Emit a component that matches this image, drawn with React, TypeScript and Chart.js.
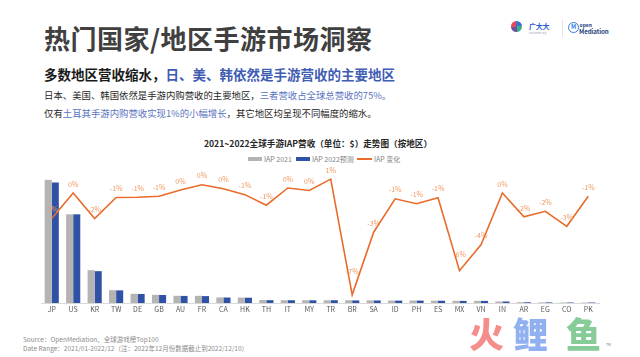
import React, { useEffect, useRef } from "react";
import { Chart, registerables } from "chart.js";

Chart.register(...registerables);

const categories = ["JP","US","KR","TW","DE","GB","AU","FR","CA","HK","TH","IT","MY","TR","BR","SA","ID","PH","ES","MX","VN","IN","AR","EG","CO","PK"];
const iap2021 = [20.0,14.4,5.33,2.08,1.49,1.33,1.17,1.17,0.91,0.88,0.48,0.46,0.45,0.44,0.45,0.42,0.40,0.40,0.38,0.36,0.35,0.24,0.13,0.10,0.08,0.08];
const iap2022 = [19.57,14.4,5.17,2.05,1.46,1.30,1.15,1.12,0.89,0.86,0.46,0.45,0.44,0.45,0.42,0.41,0.39,0.39,0.37,0.34,0.34,0.24,0.12,0.10,0.08,0.08];
const changePct = [-1.72,0.05,-1.72,-0.27,-0.25,-0.18,0.25,0.61,0.34,-0.07,-0.80,0.39,0.22,1.0,-7.0,-2.67,-0.36,-0.70,-0.29,-5.33,-3.54,0.05,-1.61,-1.22,-2.26,-0.18];
const changeLabels = ["-2%","0%","-2%","-1%","-1%","-1%","0%","0%","0%","-1%","-1%","0%","0%","1%","-7%","-3%","-1%","-1%","-1%","-6%","-4%","0%","-2%","-2%","-3%","-1%"];

const FONT = "'Noto Sans CJK SC', 'Noto Sans', sans-serif";
const GRAY = "#b4b4b4";
const BLUE = "#2f52a6";
const ORANGE = "#e86b2a";
const LABEL_ORANGE = "#f09a62";
const TEXT_BLUE = "#3f5db3";
const BODY_BLUE = "#5a74c0";

// extra lift (px) for labels sitting in sharp valleys so they clear the line
const VALLEY_LIFT: Record<number, number> = { 14: 14, 19: 7 };

const lineLabelPlugin = {
  id: "lineLabels",
  afterDatasetsDraw(chart: any) {
    const ctx = chart.ctx;
    const meta = chart.getDatasetMeta(0);
    ctx.save();
    ctx.font = `7px ${FONT}`;
    ctx.fillStyle = LABEL_ORANGE;
    ctx.textAlign = "center";
    ctx.textBaseline = "middle";
    meta.data.forEach((pt: any, i: number) => {
      const lift = 9 + (VALLEY_LIFT[i] || 0);
      ctx.fillText(changeLabels[i], pt.x, pt.y - lift);
    });
    ctx.restore();
  },
};

function ChartCanvas() {
  const ref = useRef<HTMLCanvasElement | null>(null);
  useEffect(() => {
    if (!ref.current) return;
    const chart = new Chart(ref.current, {
      type: "bar",
      data: {
        labels: categories,
        datasets: [
          {
            type: "line",
            label: "IAP 变化",
            data: changePct,
            yAxisID: "y1",
            borderColor: ORANGE,
            backgroundColor: ORANGE,
            borderWidth: 1.6,
            pointRadius: 0,
            tension: 0,
            order: 0,
          } as any,
          {
            type: "bar",
            label: "IAP 2021",
            data: iap2021,
            yAxisID: "y",
            backgroundColor: GRAY,
            categoryPercentage: 0.66,
            barPercentage: 1.0,
            order: 1,
          },
          {
            type: "bar",
            label: "IAP 2022预测",
            data: iap2022,
            yAxisID: "y",
            backgroundColor: BLUE,
            categoryPercentage: 0.66,
            barPercentage: 1.0,
            order: 1,
          },
        ],
      },
      options: {
        responsive: false,
        animation: false,
        layout: { padding: { top: 5, bottom: 4.6, left: 41, right: 41 } },
        plugins: { legend: { display: false }, title: { display: false }, tooltip: { enabled: false } },
        scales: {
          x: {
            offset: true,
            grid: { display: false, drawTicks: false },
            border: { display: true, color: "#d9d9d9", width: 1 },
            ticks: { font: { size: 7, family: FONT }, color: "#595959", padding: 2, maxRotation: 0, autoSkip: false },
          },
          y: { display: false, min: 0, max: 21.6 },
          y1: { display: false, min: -7.566, max: 1.634, position: "right" },
        },
      },
      plugins: [lineLabelPlugin],
    });
    return () => chart.destroy();
  }, []);
  return (
    <canvas
      ref={ref}
      width={640}
      height={155}
      style={{ position: "absolute", left: 0, top: 165, width: 640, height: 155 }}
    />
  );
}

function Logo() {
  return (
    <div style={{ position: "absolute", left: 505, top: 12, width: 120, height: 32 }}>
      <div
        style={{
          position: "absolute", left: 5.5, top: 9, width: 11, height: 11, borderRadius: "50%",
          background: "conic-gradient(#3d6fd0 0deg 90deg, #3cb08a 90deg 180deg, #6b4fa0 180deg 270deg, #e04a5a 270deg 360deg)",
        }}
      />
      <div style={{ position: "absolute", left: 24, top: 10, fontFamily: FONT, fontWeight: 700, fontSize: 7, lineHeight: "8px", color: "#2a5bd7", letterSpacing: -0.3 }}>广大大</div>
      <div style={{ position: "absolute", left: 24, top: 19.5, fontFamily: FONT, fontSize: 2.5, lineHeight: "3px", color: "#9aa5b5", whiteSpace: "nowrap" }}>SocialPeta 平台</div>
      <div style={{ position: "absolute", left: 57, top: 8, width: 1, height: 17, background: "#e3e3e3" }} />
      <div
        style={{
          position: "absolute", left: 63, top: 10, width: 11, height: 11, borderRadius: "50%",
          border: "1.5px solid #2f7de0", boxSizing: "border-box", fontFamily: FONT, fontWeight: 700,
          fontSize: 6, lineHeight: "8px", color: "#2f7de0", textAlign: "center",
        }}
      >M</div>
      <div style={{ position: "absolute", left: 74.5, top: 10, fontFamily: FONT, fontWeight: 700, fontSize: 5, lineHeight: "5px", color: "#1f3f7a" }}>open</div>
      <div style={{ position: "absolute", left: 74, top: 15.5, fontFamily: FONT, fontWeight: 700, fontSize: 6.2, lineHeight: "7px", color: "#1f3f7a", letterSpacing: -0.1 }}>Mediation</div>
    </div>
  );
}

export default function App() {
  const legendText: React.CSSProperties = { position: "absolute", top: 155, fontFamily: FONT, fontSize: 7, lineHeight: "8px", color: "#7f7f7f", whiteSpace: "nowrap" };
  return (
    <div style={{ position: "absolute", left: 0, top: 0, width: 640, height: 357, background: "#ffffff", overflow: "hidden", fontFamily: FONT }}>
      <div style={{ position: "absolute", left: 44, top: 24, fontSize: 26, lineHeight: "28px", fontWeight: 700, color: "#404040", letterSpacing: 0.5, whiteSpace: "nowrap" }}>
        热门国家/地区手游市场洞察
      </div>
      <Logo />
      <div style={{ position: "absolute", left: 44, top: 66, fontSize: 13.5, lineHeight: "16px", fontWeight: 700, color: "#1a1a1a", whiteSpace: "nowrap" }}>
        多数地区营收缩水，<span style={{ color: TEXT_BLUE }}>日、美、韩依然是手游营收的主要地区</span>
      </div>
      <div style={{ position: "absolute", left: 44, top: 89, fontSize: 9.4, lineHeight: "12px", color: "#262626", whiteSpace: "nowrap" }}>
        日本、美国、韩国依然是手游内购营收的主要地区，<span style={{ color: BODY_BLUE }}>三者营收占全球总营收的75%。</span>
      </div>
      <div style={{ position: "absolute", left: 44, top: 107, fontSize: 9.4, lineHeight: "12px", color: "#262626", whiteSpace: "nowrap" }}>
        仅有<span style={{ color: BODY_BLUE }}>土耳其手游内购营收实现1%的小幅增长</span>，其它地区均呈现不同幅度的缩水。
      </div>
      <div style={{ position: "absolute", left: 0, width: 636, top: 138, textAlign: "center", fontSize: 8.6, lineHeight: "11px", fontWeight: 700, color: "#262626", whiteSpace: "nowrap" }}>
        2021~2022全球手游IAP营收（单位：$）走势图（按地区）
      </div>
      <div style={{ position: "absolute", left: 248, top: 157, width: 14, height: 4, background: GRAY }} />
      <div style={{ ...legendText, left: 264 }}>IAP 2021</div>
      <div style={{ position: "absolute", left: 296, top: 157, width: 14, height: 4, background: BLUE }} />
      <div style={{ ...legendText, left: 312 }}>IAP 2022预测</div>
      <div style={{ position: "absolute", left: 357, top: 158.3, width: 15, height: 1.6, background: ORANGE }} />
      <div style={{ ...legendText, left: 374 }}>IAP 变化</div>
      <ChartCanvas />
      <div style={{ position: "absolute", left: 469, top: 313, fontSize: 35, lineHeight: "40px", fontWeight: 900, whiteSpace: "nowrap", opacity: 0.85 }}>
        <span style={{ color: "#f47a7a" }}>火</span>
        <span style={{ color: "#7ea3ee", marginLeft: 9 }}>鲤</span>
        <span style={{ color: "#72c487", marginLeft: 18 }}>鱼</span>
      </div>
      <div style={{ position: "absolute", left: 606, top: 343, fontSize: 3.5, lineHeight: "4px", color: "#777" }}>TM</div>
      <div style={{ position: "absolute", left: 23, top: 335, fontSize: 6.5, lineHeight: "8px", color: "#8c8c8c", whiteSpace: "nowrap" }}>
        Source：OpenMediation、全球游戏榜Top100
      </div>
      <div style={{ position: "absolute", left: 23, top: 344, fontSize: 6.5, lineHeight: "8px", color: "#8c8c8c", whiteSpace: "nowrap" }}>
        Date Range：2021/01-2022/12（注：2022年12月份数据截止到2022/12/10）
      </div>
    </div>
  );
}
